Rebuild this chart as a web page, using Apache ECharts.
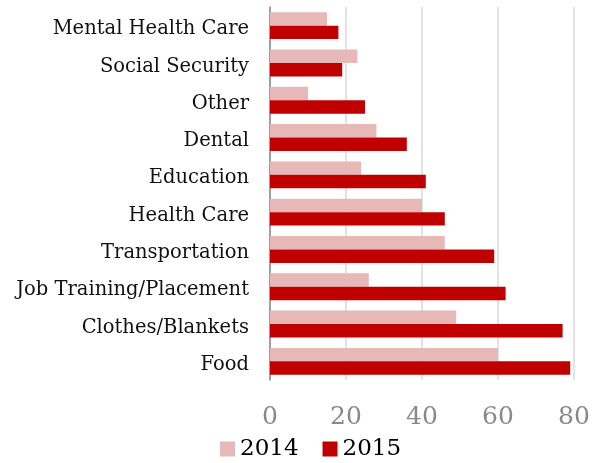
<!DOCTYPE html>
<html>
<head>
<meta charset="utf-8">
<script src="https://cdn.jsdelivr.net/npm/echarts@6/dist/echarts.min.js"></script>
<style>html,body{margin:0;padding:0;background:#fff}#c{width:598px;height:463px}</style>
</head>
<body>
<div id="c"></div>
<script>
const categories = ["Mental Health Care","Social Security","Other","Dental","Education","Health Care","Transportation","Job Training/Placement","Clothes/Blankets","Food"];
const values2014 = [15, 23, 10, 28, 24, 40, 46, 26, 49, 60];
const values2015 = [18, 19, 25, 36, 41, 46, 59, 62, 77, 79];
const xTicks = [0, 20, 40, 60, 80];

const chart = echarts.init(document.getElementById('c'), null, {renderer: 'canvas'});
const serif = '"DejaVu Serif", serif';
chart.setOption({
  animation: false,
  backgroundColor: '#fff',
  grid: {left: 270, right: 24, top: 7, bottom: 83, containLabel: false},
  legend: {
    left: 220, top: 437, padding: 0,
    itemWidth: 15, itemHeight: 15, itemGap: 24,
    icon: 'rect',
    textStyle: {fontFamily: serif, fontSize: 23, color: '#000', lineHeight: 24},
    data: ['2014', '2015']
  },
  xAxis: {
    type: 'value', min: xTicks[0], max: xTicks[xTicks.length - 1], interval: 20,
    axisLine: {show: false}, axisTick: {show: false},
    splitLine: {lineStyle: {color: '#d9d9d9', width: 1.5}},
    axisLabel: {fontFamily: serif, fontSize: 25, color: '#898989', margin: 25, lineHeight: 25}
  },
  yAxis: {
    type: 'category', data: categories, inverse: true,
    axisLine: {lineStyle: {color: '#888', width: 1.5}},
    axisTick: {show: false},
    axisLabel: {
      margin: 21,
      formatter: function (v) { return '{a|' + v + '}'; },
      rich: {a: {fontFamily: serif, fontSize: 19.5, color: '#111', padding: [7, 0, 0, 0]}}
    }
  },
  series: [
    {name: '2014', type: 'bar', data: values2014, itemStyle: {color: '#e6b9b8'}, barGap: '0%', barCategoryGap: '28%'},
    {name: '2015', type: 'bar', data: values2015, itemStyle: {color: '#c00000'}, barGap: '0%', barCategoryGap: '28%'}
  ]
});
</script>
</body>
</html>
